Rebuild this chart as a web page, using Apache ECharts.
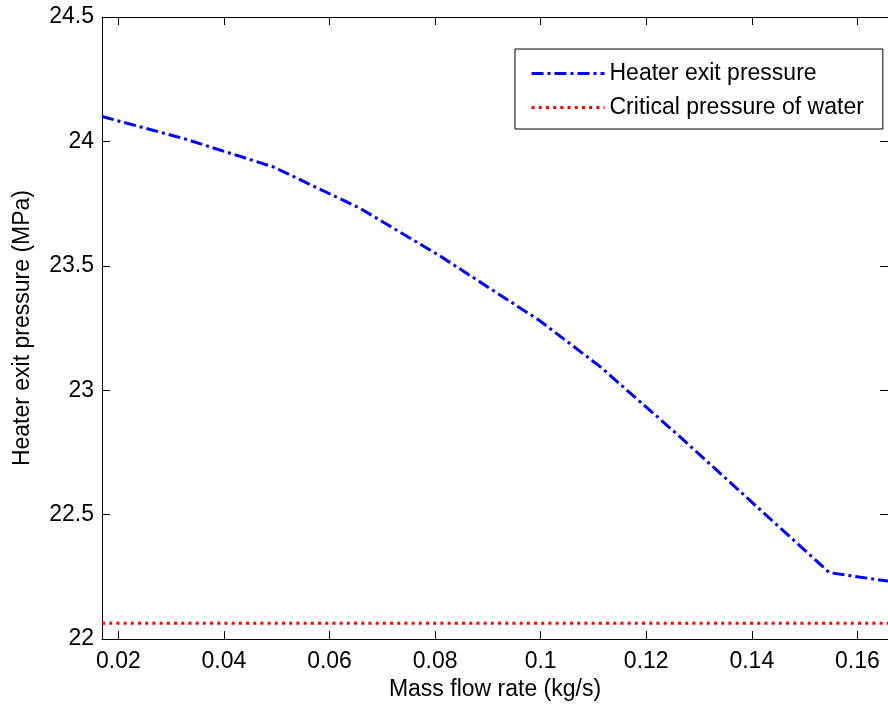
<!DOCTYPE html>
<html>
<head>
<meta charset="utf-8">
<script src="https://cdn.jsdelivr.net/npm/echarts@6/dist/echarts.min.js"></script>
<style>
  html, body { margin: 0; padding: 0; background: #fff; }
  #chart { width: 888px; height: 706px; }
</style>
</head>
<body>
<div id="chart"></div>
<script>
// values
var flowRate = [0.0169, 0.0323, 0.0493, 0.0658, 0.0809, 0.0998, 0.1112, 0.1263, 0.1452, 0.1547, 0.1658];
var exitPressure = [24.10, 24.012, 23.898, 23.731, 23.54, 23.28, 23.096, 22.815, 22.45, 22.267, 22.233];
var criticalX = [0.0169, 0.1658];
var criticalPressure = [22.064, 22.064];
var xTicks = [0.02, 0.04, 0.06, 0.08, 0.1, 0.12, 0.14, 0.16];
var seriesNames = ['Heater exit pressure', 'Critical pressure of water'];

var font = 'Liberation Sans, Arial, sans-serif';

function pairs(xs, ys) {
    var out = [];
    for (var i = 0; i < xs.length; i++) out.push([xs[i], ys[i]]);
    return out;
}

var tickStyle = { show: true, inside: true, length: 8, lineStyle: { color: '#000', width: 1 } };
var lineStyleAxis = { show: true, lineStyle: { color: '#000', width: 1 } };

var option = {
    animation: false,
    backgroundColor: '#fff',
    grid: { left: 102, top: 17, width: 787, height: 623, containLabel: false },
    legend: {
        orient: 'vertical',
        left: 515,
        top: 49,
        padding: [13, 19, 10, 15],
        itemWidth: 73,
        itemHeight: 22,
        itemGap: 11,
        borderColor: '#000',
        borderWidth: 1,
        backgroundColor: '#fff',
        itemStyle: { opacity: 0 },
        lineStyle: { width: 3 },
        textStyle: { fontFamily: font, fontSize: 23, color: '#000' },
        data: seriesNames
    },
    xAxis: [{
        type: 'value',
        position: 'bottom',
        min: 0.0169,
        max: 0.1658,
        name: 'Mass flow rate (kg/s)',
        nameLocation: 'middle',
        nameGap: 38,
        nameTextStyle: { fontFamily: font, fontSize: 23, color: '#000' },
        axisLine: lineStyleAxis,
        axisTick: Object.assign({ customValues: xTicks }, tickStyle),
        axisLabel: { customValues: xTicks, fontFamily: font, fontSize: 23, color: '#000', margin: 11 },
        splitLine: { show: false }
    }, {
        type: 'value',
        position: 'top',
        min: 0.0169,
        max: 0.1658,
        axisLine: lineStyleAxis,
        axisTick: Object.assign({ customValues: xTicks }, tickStyle),
        axisLabel: { show: false },
        splitLine: { show: false }
    }],
    yAxis: [{
        type: 'value',
        position: 'left',
        min: 22,
        max: 24.5,
        interval: 0.5,
        name: 'Heater exit pressure (MPa)',
        nameLocation: 'middle',
        nameGap: 68,
        nameTextStyle: { fontFamily: font, fontSize: 23, color: '#000' },
        axisLine: lineStyleAxis,
        axisTick: tickStyle,
        axisLabel: { fontFamily: font, fontSize: 23, color: '#000', margin: 8 },
        splitLine: { show: false }
    }, {
        type: 'value',
        position: 'right',
        min: 22,
        max: 24.5,
        interval: 0.5,
        axisLine: lineStyleAxis,
        axisTick: tickStyle,
        axisLabel: { show: false },
        splitLine: { show: false }
    }],
    series: [{
        name: seriesNames[0],
        type: 'line',
        xAxisIndex: 0,
        yAxisIndex: 0,
        symbol: 'none',
        showSymbol: false,
        data: pairs(flowRate, exitPressure),
        lineStyle: { color: '#0000ff', width: 3, type: [12, 4, 3, 4], cap: 'butt' },
        itemStyle: { color: '#0000ff' }
    }, {
        name: seriesNames[1],
        type: 'line',
        xAxisIndex: 0,
        yAxisIndex: 0,
        symbol: 'none',
        showSymbol: false,
        data: pairs(criticalX, criticalPressure),
        lineStyle: { color: '#ff0000', width: 3, type: [3, 4.2], cap: 'butt' },
        itemStyle: { color: '#ff0000' }
    }]
};

var chart = echarts.init(document.getElementById('chart'), null, { renderer: 'canvas' });
chart.setOption(option);
</script>
</body>
</html>
